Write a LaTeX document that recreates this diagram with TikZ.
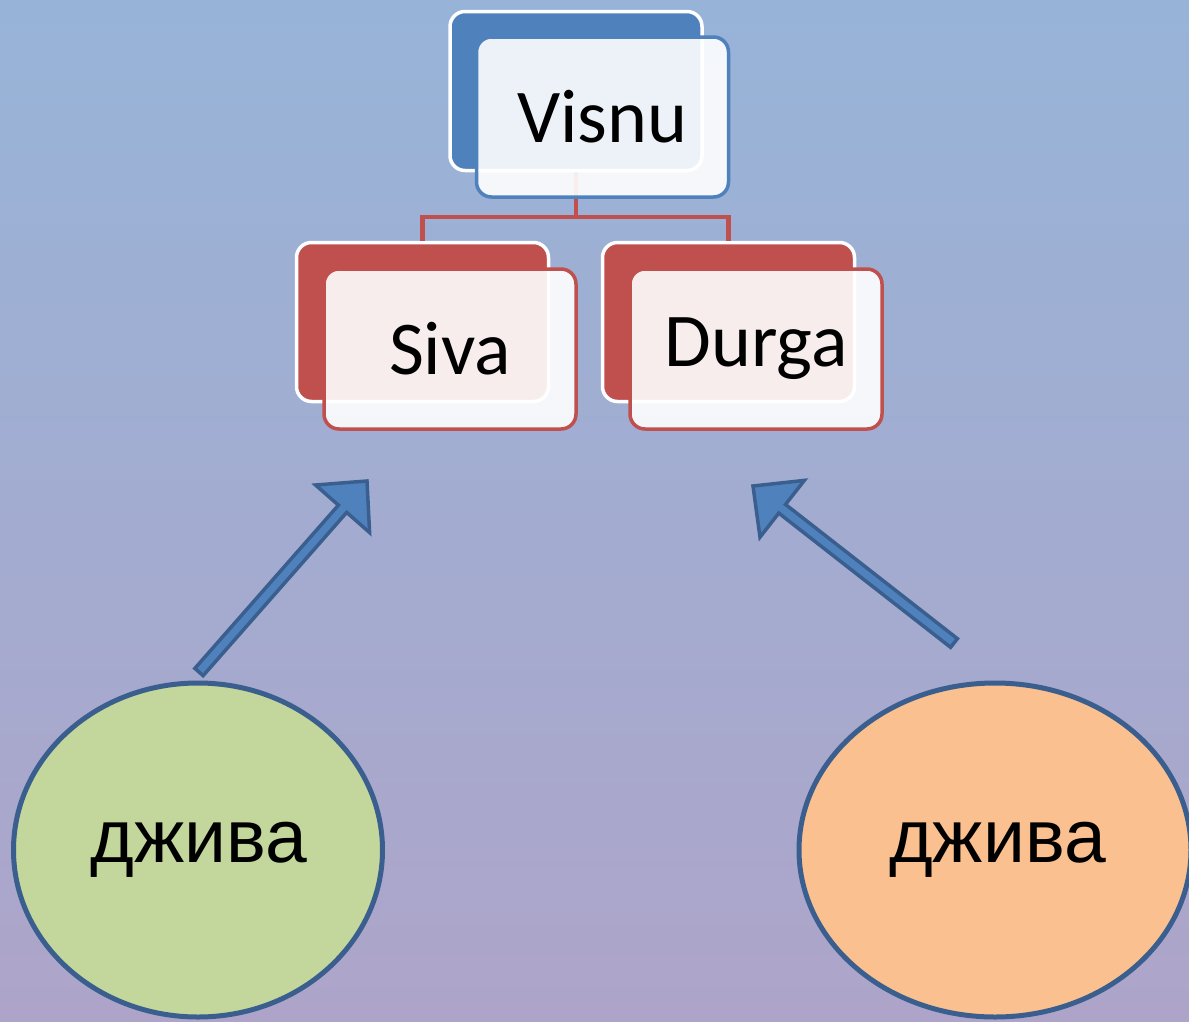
\documentclass[tikz,border=0pt]{standalone}
\usepackage{fontspec}
\setmainfont{Carlito}
\newfontfamily\arialf{Liberation Sans}
\usetikzlibrary{calc,shapes.geometric}
\definecolor{bgtop}{HTML}{97B4D8}
\definecolor{bgbot}{HTML}{AEA4C9}
\definecolor{blueA}{HTML}{4F81BD}
\definecolor{redA}{HTML}{C0504D}
\definecolor{edgeB}{HTML}{3A5F8F}
\definecolor{greenA}{HTML}{C3D69B}
\definecolor{orangeA}{HTML}{FAC090}
\tikzset{
  backbox/.style={draw=white, line width=3.5pt, fill=#1, rounded corners=15pt,
    minimum width=252pt, minimum height=159pt, inner sep=0pt},
  frontbox/.style={draw=#1, line width=3.5pt, fill=white, fill opacity=0.9, text opacity=1,
    rounded corners=15pt, minimum width=252pt, minimum height=160pt, inner sep=0pt,
    font=\fontsize{76}{80}\selectfont},
  conn/.style={draw=redA, line width=4.5pt},
  jiva/.style={ellipse, draw=edgeB, line width=5pt, fill=#1, inner sep=0pt,
    font=\arialf\fontsize{75}{80}\selectfont},
  blockarrow/.style={fill=blueA, draw=edgeB, line width=3.5pt, line join=miter}
}
\newcommand\blockarr[2]{%
  \path ($(#2)!37pt!(#1)$) coordinate (H);
  \filldraw[blockarrow] ($(#1)!5.5pt!90:(#2)$) -- ($(H)!5.5pt!90:(#2)$) --
    ($(H)!36pt!90:(#2)$) -- (#2) -- ($(H)!36pt!-90:(#2)$) --
    ($(H)!5.5pt!-90:(#2)$) -- ($(#1)!5.5pt!-90:(#2)$) -- cycle;}
\begin{document}
\begin{tikzpicture}[x=1pt,y=-1pt]
\useasboundingbox (0,0) rectangle (1189,1021);
\shade[top color=bgtop, bottom color=bgbot] (0,0) rectangle (1189,1021);
% back boxes
\node[backbox=blueA] (vb) at (576,91) {};
\node[backbox=redA] (sb) at (422.5,322) {};
\node[backbox=redA] (db) at (728.5,322) {};
% connectors
\coordinate (junc) at (576,217);
\draw[conn] (vb.south) -- (junc) -| (sb.north);
\draw[conn] (junc) -| (db.north);
% front boxes
\node[frontbox=blueA] (vf) at (602.5,117) {Visnu};
\node[frontbox=redA] (sf) at (450,349) {Siva};
\node[frontbox=redA] (df) at (756,349) {Durga};
% ellipses
\node[jiva=greenA, minimum width=369pt, minimum height=334pt] (j1) at (198,850) {\hspace*{2pt}джива};
\node[jiva=orangeA, minimum width=392pt, minimum height=334pt] (j2) at (995,850) {\hspace*{5pt}джива};
% arrows
\coordinate (a1t) at (199,672);
\coordinate (a1h) at (367,481);
\coordinate (a2t) at (954,643);
\coordinate (a2h) at (753,486);
\blockarr{a1t}{a1h}
\blockarr{a2t}{a2h}
\end{tikzpicture}
\end{document}
